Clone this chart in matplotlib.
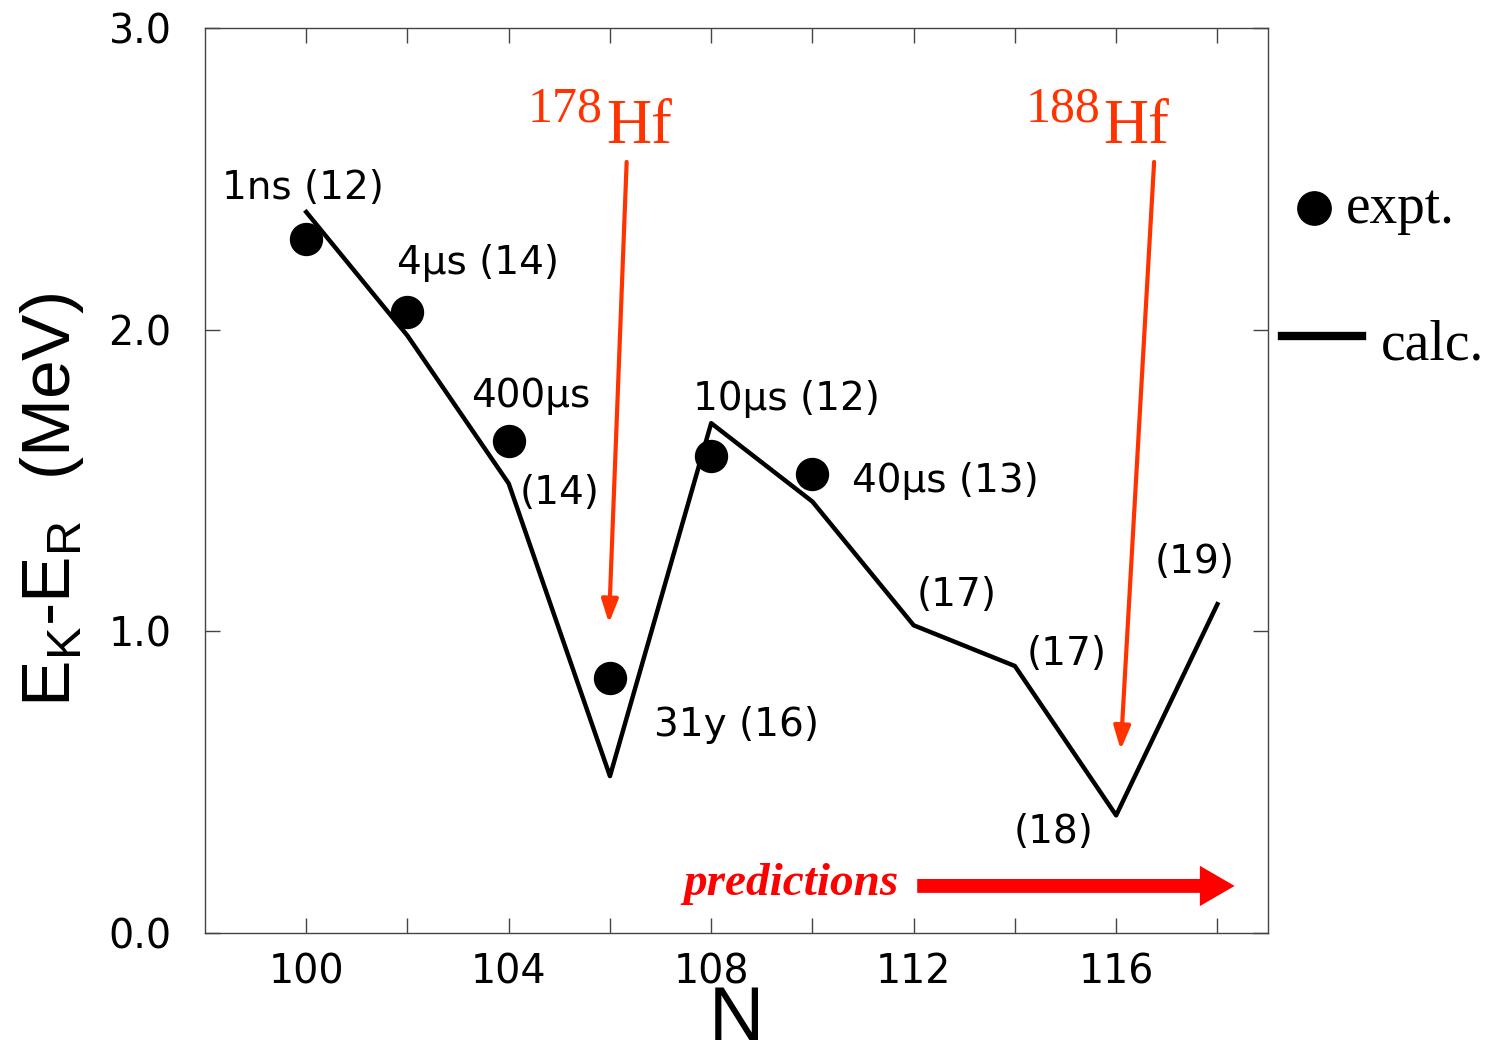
import matplotlib
matplotlib.use("Agg")
import matplotlib.pyplot as plt
from matplotlib.lines import Line2D

#data
N_calc = [100, 102, 104, 106, 108, 110, 112, 114, 116, 118]
E_calc = [2.39, 1.98, 1.49, 0.52, 1.69, 1.43, 1.02, 0.885, 0.39, 1.09]
N_expt = [100, 102, 104, 106, 108, 110]
E_expt = [2.30, 2.06, 1.63, 0.845, 1.58, 1.52]

#labels (text, N of left edge, y of centre)
labels = ["1ns (12)", "4\u00b5s (14)", "400\u00b5s", "(14)", "10\u00b5s (12)", "40\u00b5s (13)",
          "31y (16)", "(17)", "(17)", "(19)", "(18)"]
label_N = [98.34, 101.8, 103.25, 104.22, 107.65, 110.79, 106.88, 112.05, 114.24, 116.77, 113.98]
label_E = [2.47, 2.22, 1.78, 1.46, 1.77, 1.50, 0.69, 1.12, 0.925, 1.23, 0.335]

xticks = list(range(100, 119, 2))
yticks = [0.0, 1.0, 2.0, 3.0]

W, H = 1504, 1054
def px(x, y):
    return (x / W, 1 - y / H)

plt.rcParams["font.family"] = ["DejaVu Sans"]
plt.rcParams["mathtext.fontset"] = "custom"
plt.rcParams["mathtext.rm"] = "Liberation Sans"

fig = plt.figure(figsize=(15.04, 10.54), dpi=100)
ax = fig.add_axes([205 / W, 1 - 933 / H, (1268 - 205) / W, (933 - 28) / H])

ax.plot(N_calc, E_calc, color="black", lw=3.2, zorder=3)
ax.plot(N_expt, E_expt, "o", color="black", ms=23, zorder=4)

for t, x, y in zip(labels, label_N, label_E):
    ax.text(x, y, t, ha="left", va="center", fontsize=28)

ax.set_xlim(98, 119)
ax.set_ylim(0, 3)
ax.set_xticks(xticks)
ax.set_xticklabels([str(t) if t % 4 == 0 else "" for t in xticks])
ax.set_yticks(yticks)
ax.set_yticklabels(["%.1f" % t for t in yticks])
ax.tick_params(axis="both", direction="in", length=11, width=1, color="#444444",
               labelsize=28.5, top=True, right=True)
ax.tick_params(axis="y", pad=24)
ax.tick_params(axis="x", pad=14)
for s in ax.spines.values():
    s.set_color("#444444")
    s.set_linewidth(1)

ax.set_xlabel("N", fontsize=55, family="Liberation Sans", labelpad=-5)
fig.text(*px(52, 500), r"E$_\mathrm{K}$-E$_\mathrm{R}$  (MeV)", rotation=90,
         ha="center", va="center", fontsize=50, family="Liberation Sans")

#red isotope labels and arrows
orange = "#ff3300"
for iso, xr in [("178", 603), ("188", 1100)]:
    fig.text(*px(xr, 122), iso, ha="right", va="baseline", fontsize=36,
             family="Liberation Serif", color=orange)
    fig.text(*px(xr + 3, 143), "Hf", ha="left", va="baseline", fontsize=45,
             family="Liberation Serif", color=orange)
ax.annotate("", xy=(105.98, 1.027), xytext=(106.33, 2.556),
            arrowprops=dict(arrowstyle="-|>,head_length=0.7,head_width=0.25",
                            color=orange, lw=3, mutation_scale=20, shrinkA=0, shrinkB=0))
ax.annotate("", xy=(116.09, 0.607), xytext=(116.75, 2.556),
            arrowprops=dict(arrowstyle="-|>,head_length=0.7,head_width=0.25",
                            color=orange, lw=3, mutation_scale=20, shrinkA=0, shrinkB=0))

#predictions arrow
ax.text(111.7, 0.163, "predictions", ha="right", va="center", fontsize=34,
        family="Liberation Serif", style="italic", weight="bold", color="red")
ax.annotate("", xy=(118.34, 0.156), xytext=(112.07, 0.156),
            arrowprops=dict(arrowstyle="simple,head_length=2.5,head_width=2.9,tail_width=1.0",
                            color="red", lw=0, mutation_scale=10, shrinkA=0, shrinkB=0))

#legend drawn by hand outside the axes
fig.add_artist(Line2D([1314 / W], [1 - 208 / H], marker="o", ms=24, color="black",
                      transform=fig.transFigure))
fig.text(*px(1346, 223), "expt.", ha="left", va="baseline", fontsize=40,
         family="Liberation Serif")
fig.add_artist(Line2D([1282 / W, 1362 / W], [1 - 336 / H] * 2, lw=6, color="black",
                      transform=fig.transFigure))
fig.text(*px(1381, 360), "calc.", ha="left", va="baseline", fontsize=40,
         family="Liberation Serif")

fig.savefig("out.png", dpi=100)
